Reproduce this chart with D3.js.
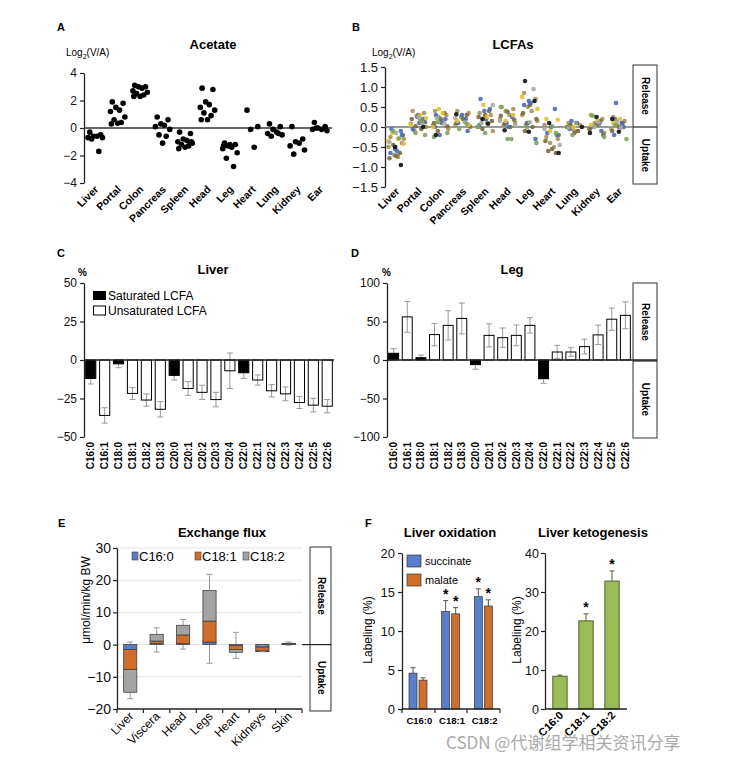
<!DOCTYPE html>
<html><head><meta charset="utf-8">
<script src="https://cdn.jsdelivr.net/npm/d3@7"></script>
<style>
body{margin:0;background:#fff;}
svg{font-family:"Liberation Sans",Arial,sans-serif;}
</style></head><body>
<svg id="fig" width="736" height="758"></svg>
<script>
// ---------------- DATA ----------------
const organsA = ["Liver","Portal","Colon","Pancreas","Spleen","Head","Leg","Heart","Lung","Kidney","Ear"];
const acetateTicks = [-4,-2,0,2,4];
const acetateValues = [
  [-0.3,-0.5,-0.6,-0.6,-0.7,-0.7,-0.8,-1.7],
  [1.9,1.8,1.5,1.3,1.2,0.8,0.6,0.4,0.35,0.3],
  [3.1,3.0,3.0,2.9,2.7,2.6,2.5,2.4,2.3,2.3],
  [0.8,0.6,0.3,0.2,0.1,-0.1,-0.5,-0.6,-1.1],
  [-0.3,-0.4,-0.8,-0.9,-1.0,-1.1,-1.2,-1.3,-1.4,-1.5,-1.0],
  [2.9,2.8,1.9,1.7,1.5,1.3,1.1,0.9,0.6,0.6],
  [-1.1,-1.2,-1.3,-1.4,-1.5,-1.8,-2.2,-2.8,-1.2,-1.3],
  [1.3,0.1,-0.1,-1.4],
  [0.3,0.1,-0.1,-0.3,-0.4,-0.5,-0.6,-0.4],
  [0.1,-0.8,-1.0,-1.1,-1.3,-1.6,-1.9],
  [0.4,0.1,0.0,-0.1,-0.1,-0.2,0.0]
];

const lcfaTicks = [-1.5,-1.0,-0.5,0,0.5,1.0,1.5];
const lcfaColors = ["#4b6cb7","#e3c12c","#a3955a","#7a6a3e","#7fa25f","#a7aaa5","#111111"];
const lcfaBlue = [[-0.05,-0.1,-0.55,-0.6,-0.65,-0.2],[0.2,0.25,0.1,-0.05,0.15],[0.3,0.2,-0.2,0.1,0.0],[0.2,0.1,-0.1,0.3],[0.7,0.45,0.4,0.2,0.05],[0.25,0.1,0.0],[0.65,0.6,0.55,-0.3,0.1],[0.45,-0.15,-0.2,0.0],[0.15,0.1,-0.05],[0.1,0.0,-0.1],[0.6,0.1,-0.2,0.0]];
const lcfaYellow = [[-0.3,-0.35,-0.42,-0.15],[0.3,0.05,0.22],[0.45,0.35,0.0],[0.15,0.05],[0.55,0.25],[0.3,0.15],[0.75,0.45],[0.2,0.18,-0.1],[0.0],[0.15,0.05],[0.2,0.1]];
const lcfaOlive = [[-0.25,-0.4,-0.7,-0.75,-0.5,-0.3],[0.4,0.35,0.28,0.18,0.08,0.0,-0.1],[0.4,0.3,0.25,0.15,0.05,-0.05],[0.4,0.35,0.25,0.15,0.05,0.0],[0.35,0.3,0.2,0.1,0.0,-0.1],[0.5,0.45,0.4,0.3,0.2,0.1,0.05],[0.85,0.7,0.5,0.4,0.3,0.15,0.05],[-0.25,-0.3,-0.4,-0.5,0.05],[0.1,0.05,-0.05,-0.1,0.0],[0.3,0.2,0.1,0.05,-0.05,-0.15],[0.25,0.15,0.05,0.0,-0.05]];
const lcfaBrown = [[-0.65,-0.72,-0.78,-0.2,-0.45],[0.3,0.2,0.12,0.02,-0.05],[0.35,0.2,0.1,0.02,-0.1],[0.3,0.2,0.1,0.02],[0.4,0.3,0.25,0.15,-0.05],[0.38,0.28,0.18,0.08,0.0],[0.55,0.35,0.2,0.1,0.0,-0.1],[-0.6,-0.65,-0.55,-0.35,-0.2],[0.05,-0.1,-0.15,0.0],[0.15,0.05,-0.05,-0.2],[0.2,0.1,0.0,-0.1]];
const lcfaGreen = [[-0.1,-0.28],[-0.2,-0.15,0.15],[-0.25,-0.15,0.12],[-0.05,0.08],[-0.15,0.0],[-0.3,-0.3,0.5],[-0.4,0.0],[-0.15,0.02],[-0.2,0.1],[-0.25,0.28],[-0.3,0.05]];
const lcfaGray = [[-0.15,-0.38],[0.1,0.25],[0.22,0.08],[0.12,0.22],[0.55,0.1],[0.15,0.05],[0.95,0.12],[-0.05,-0.45],[-0.02],[0.0,0.12],[0.15,-0.02]];
const lcfaBlack = [[-0.95,-0.5],[0.0],[-0.2],[0.32],[0.2,0.08],[-0.08],[1.15,0.65,-0.12],[-0.65,0.1],[0.0],[0.25,-0.15],[-0.12,0.2]];

const fattyAcids = ["C16:0","C16:1","C18:0","C18:1","C18:2","C18:3","C20:0","C20:1","C20:2","C20:3","C20:4","C22:0","C22:1","C22:2","C22:3","C22:4","C22:5","C22:6"];
const saturated = [1,0,1,0,0,0,1,0,0,0,0,1,0,0,0,0,0,0];
const liverPct = [-12,-36,-2.5,-21.7,-26,-32,-10,-18.5,-21,-25.7,-7,-8.3,-13,-20,-22,-27.6,-29.3,-30];
const liverErr = [3.6,5,2.5,3.9,4,5,3,4.5,4.6,4.7,11.5,3.7,3.3,4,4.5,3.9,4.4,4.3];
const liverTicks = [-50,-25,0,25,50];
const legPct = [8.7,56,3,33,45,54,-6,32,29,32,45,-24.3,10.4,10.4,17.4,32.6,53,58];
const legErr = [6,20,3.5,14.5,19,20,6,15,12.5,13.5,10,6,8.7,5.6,9.6,12.6,14.4,17.4];
const legTicks = [-100,-50,0,50,100];

const fluxCats = ["Liver","Viscera","Head","Legs","Heart","Kidneys","Skin"];
const fluxSeries = ["C16:0","C18:1","C18:2"];
const fluxC160 = [-1.5,0.3,0.3,0.8,-0.3,-0.8,0.1];
const fluxC181 = [-6.2,0.8,2.7,6.5,-1.2,-1.2,0.1];
const fluxC182 = [-7.1,2.1,3.0,9.5,-0.9,-0.2,0.2];
const fluxErrLo = [-16.8,-2.3,-1.4,-5.8,-4.3,-2.2,-0.2];
const fluxErrHi = [0.8,5.2,7.8,21.8,3.8,-0.3,0.8];
const fluxTicks = [-20,-10,0,10,20,30];

const oxCats = ["C16:0","C18:1","C18:2"];
const succinate = [4.6,12.5,14.4];
const succinateErr = [0.7,1.4,1.0];
const malate = [3.7,12.2,13.2];
const malateErr = [0.3,0.8,0.8];
const oxSig = [0,1,1];
const oxTicks = [0,5,10,15,20];
const ketone = [8.4,22.6,32.8];
const ketoneErr = [0.3,1.8,2.6];
const ketSig = [0,1,1];
const ketTicks = [0,10,20,30,40];

// ---------------- DRAW ----------------
const svg = d3.select("#fig");
const FONT = "Liberation Sans, Arial, sans-serif";

function txt(x,y,s,opt={}){
  const t = svg.append("text").attr("x",x).attr("y",y).text(s)
    .attr("font-size",opt.size||11).attr("font-weight",opt.bold?"bold":"normal")
    .attr("text-anchor",opt.anchor||"start").attr("fill",opt.fill||"#000");
  if(opt.rotate!==undefined) t.attr("transform",`rotate(${opt.rotate},${x},${y})`);
  return t;
}
function logLabel(x,y){
  const t = svg.append("text").attr("x",x).attr("y",y).attr("font-size",10);
  t.append("tspan").text("Log");
  t.append("tspan").text("2").attr("font-size",7).attr("dy",3);
  t.append("tspan").text("(V/A)").attr("dy",-3);
}
function yAxis(scale,x,ticks,fs,fmt,pad){
  const g = svg.append("g").attr("transform",`translate(${x},0)`)
    .call(d3.axisLeft(scale).tickValues(ticks).tickSize(4).tickPadding(pad===undefined?3:pad).tickSizeOuter(0).tickFormat(fmt||d3.format("d")));
  g.select(".domain").attr("stroke","#222").attr("stroke-width",1.3);
  g.selectAll(".tick line").attr("stroke","#222").attr("stroke-width",1.2);
  g.selectAll("text").attr("font-size",fs).attr("font-family",FONT).attr("fill","#111");
  return g;
}
function relBox(x0,x1,y0,ymid,y1,fs){
  svg.append("rect").attr("x",x0).attr("y",y0).attr("width",x1-x0).attr("height",y1-y0)
    .attr("fill","#fff").attr("stroke","#333").attr("stroke-width",1);
  svg.append("line").attr("x1",x0).attr("x2",x1).attr("y1",ymid).attr("y2",ymid).attr("stroke","#222").attr("stroke-width",1.2);
  const cx=(x0+x1)/2;
  txt(cx-3,(y0+ymid)/2,"Release",{size:fs,bold:true,anchor:"middle",rotate:90});
  txt(cx-3,(ymid+y1)/2,"Uptake",{size:fs,bold:true,anchor:"middle",rotate:90});
}
const jit = [-6,6,-2,2,-8,8,-4,4,0,-7,7,-3,3,-5,5,-1,1];

// ---- Panel A ----
txt(57,31,"A",{size:11,bold:true});
txt(213,49,"Acetate",{size:13,bold:true,anchor:"middle"});
logLabel(66,56);
const xA = d3.scalePoint().domain(organsA).range([84,331]).padding(0.5);
const yA = d3.scaleLinear().domain([-4,4]).range([183,73]);
yAxis(yA,84,acetateTicks,12);
svg.append("line").attr("x1",84).attr("x2",332).attr("y1",yA(0)).attr("y2",yA(0)).attr("stroke","#333").attr("stroke-width",1.6);
organsA.forEach((o,i)=>{
  svg.selectAll(null).data(acetateValues[i]).enter().append("circle")
    .attr("cx",(d,j)=>xA(o)+jit[j%jit.length]*0.9).attr("cy",d=>yA(d)).attr("r",2.8).attr("fill","#000");
  txt(xA(o)+4,190,o,{size:10.5,bold:true,anchor:"end",rotate:-45});
});

// ---- Panel B ----
txt(352,31,"B",{size:11,bold:true});
txt(513,49,"LCFAs",{size:13,bold:true,anchor:"middle"});
logLabel(372,56);
const xB = d3.scalePoint().domain(organsA).range([385,630]).padding(0.5);
const yB = d3.scaleLinear().domain([-1.5,1.5]).range([187,67]);
yAxis(yB,385,lcfaTicks,13,d3.format(".1f"));
relBox(633,657,65,yB(0),184,10);
svg.append("line").attr("x1",385).attr("x2",633).attr("y1",yB(0)).attr("y2",yB(0)).attr("stroke","#777").attr("stroke-width",1.6);
const lcfaSets = [lcfaOlive,lcfaBrown,lcfaBlue,lcfaYellow,lcfaGray,lcfaGreen,lcfaBlack];
const lcfaSetColors = [lcfaColors[2],lcfaColors[3],lcfaColors[0],lcfaColors[1],lcfaColors[5],lcfaColors[4],lcfaColors[6]];
organsA.forEach((o,i)=>{
  let k=0;
  lcfaSets.forEach((set,si)=>{
    svg.selectAll(null).data(set[i]).enter().append("circle")
      .attr("cx",()=>xB(o)+jit[(k++ + si)%jit.length]*0.95).attr("cy",d=>yB(d)).attr("r",2.3)
      .attr("fill",lcfaSetColors[si]).attr("opacity",0.9);
  });
  txt(xB(o)+4,192,o,{size:10.5,bold:true,anchor:"end",rotate:-45});
});

// ---- bar panels C, D ----
function barPanel(opts){
  const x = d3.scaleBand().domain(fattyAcids).range(opts.xr).paddingInner(0.27).paddingOuter(0.12);
  const y = d3.scaleLinear().domain(opts.dom).range([437,283]);
  yAxis(y,opts.xr[0],opts.ticks,12);
  fattyAcids.forEach((f,i)=>{
    const v=opts.vals[i], e=opts.err[i];
    const xc=x(f)+x.bandwidth()/2;
    svg.append("line").attr("x1",xc).attr("x2",xc).attr("y1",y(v-e)).attr("y2",y(v+e)).attr("stroke","#999").attr("stroke-width",1);
    const capv = v>=0? v+e : v-e;
    svg.append("line").attr("x1",xc-3).attr("x2",xc+3).attr("y1",y(capv)).attr("y2",y(capv)).attr("stroke","#999").attr("stroke-width",1);
    const capw = v>=0? v-e : v+e;
    svg.append("line").attr("x1",xc-3).attr("x2",xc+3).attr("y1",y(capw)).attr("y2",y(capw)).attr("stroke","#999").attr("stroke-width",1);
    svg.append("rect").attr("x",x(f)).attr("width",x.bandwidth())
      .attr("y",y(Math.max(0,v))).attr("height",Math.abs(y(v)-y(0)))
      .attr("fill",saturated[i]?"#000":"#fff").attr("fill-opacity",saturated[i]?1:0).attr("stroke","#000").attr("stroke-width",1);
    txt(xc+3.5,442,f,{size:10,bold:true,anchor:"end",rotate:-90});
  });
  svg.append("line").attr("x1",opts.xr[0]).attr("x2",opts.zeroEnd).attr("y1",y(0)).attr("y2",y(0)).attr("stroke","#222").attr("stroke-width",1.3);
  return {x,y};
}
txt(57,257,"C",{size:11,bold:true});
txt(213,274,"Liver",{size:13,bold:true,anchor:"middle"});
txt(78,276,"%",{size:10,bold:true});
barPanel({xr:[84,334],dom:[-50,50],ticks:liverTicks,vals:liverPct,err:liverErr,zeroEnd:334});
svg.append("rect").attr("x",93).attr("y",291).attr("width",13).attr("height",9).attr("fill","#000");
txt(108,300,"Saturated LCFA",{size:12});
svg.append("rect").attr("x",93.5).attr("y",306).attr("width",12).attr("height",9).attr("fill","#fff").attr("stroke","#000");
txt(108,315,"Unsaturated LCFA",{size:12});

txt(351,257,"D",{size:11,bold:true});
txt(512,274,"Leg",{size:13,bold:true,anchor:"middle"});
txt(382,276,"%",{size:10,bold:true});
relBox(633,657,283,361,438,10);
barPanel({xr:[387,632],dom:[-100,100],ticks:legTicks,vals:legPct,err:legErr,zeroEnd:657});

// ---- Panel E ----
txt(58,527,"E",{size:11,bold:true});
txt(222,537,"Exchange flux",{size:13,bold:true,anchor:"middle"});
const xE = d3.scaleBand().domain(fluxCats).range([117,302]).paddingInner(0.5).paddingOuter(0.25);
const yE = d3.scaleLinear().domain([-20,30]).range([709,548]);
fluxTicks.filter(t=>t>-20).forEach(t=>{
  svg.append("line").attr("x1",117).attr("x2",302).attr("y1",yE(t)).attr("y2",yE(t)).attr("stroke","#e3e3e3").attr("stroke-width",1);
});
relBox(310,331,547,yE(0),711,10);
svg.append("line").attr("x1",302).attr("x2",310).attr("y1",yE(0)).attr("y2",yE(0)).attr("stroke","#222").attr("stroke-width",1.2);
const fluxColors = ["#5b7bc4","#cf6e2a","#a3a3a3"];
const fluxData = [fluxC160,fluxC181,fluxC182];
fluxCats.forEach((c,i)=>{
  const xc = xE(c)+xE.bandwidth()/2;
  svg.append("line").attr("x1",xc).attr("x2",xc).attr("y1",yE(fluxErrLo[i])).attr("y2",yE(fluxErrHi[i])).attr("stroke","#999");
  let acc=0;
  fluxData.forEach((s,si)=>{
    const a=acc, b=acc+s[i]; acc=b;
    svg.append("rect").attr("x",xE(c)).attr("width",xE.bandwidth())
      .attr("y",yE(Math.max(a,b))).attr("height",Math.abs(yE(a)-yE(b)))
      .attr("fill",fluxColors[si]).attr("stroke","#444").attr("stroke-width",0.8);
  });
  [fluxErrLo[i],fluxErrHi[i]].forEach(v=>svg.append("line").attr("x1",xc-3).attr("x2",xc+3).attr("y1",yE(v)).attr("y2",yE(v)).attr("stroke","#999"));
  txt(xc+4,717,c,{size:12,anchor:"end",rotate:-45});
});
yAxis(yE,117,fluxTicks,14,null,2);
svg.append("line").attr("x1",117).attr("x2",302).attr("y1",yE(-20)).attr("y2",yE(-20)).attr("stroke","#222").attr("stroke-width",1.3);
d3.range(fluxCats.length+1).forEach(k=>{
  const xx = 117 + k*xE.step();
  svg.append("line").attr("x1",xx).attr("x2",xx).attr("y1",709).attr("y2",713).attr("stroke","#222").attr("stroke-width",1.2);
});
[[132,"C16:0"],[195,"C18:1"],[243,"C18:2"]].forEach((p,k)=>{
  svg.append("rect").attr("x",p[0]).attr("y",552).attr("width",6).attr("height",8).attr("fill",fluxColors[k]).attr("stroke","#444").attr("stroke-width",0.6);
  txt(p[0]+7,561,fluxSeries[k],{size:13});
});
txt(90,600,"μmol/min/kg BW",{size:12,anchor:"middle",rotate:-90});

// ---- Panel F ----
txt(365,527,"F",{size:11,bold:true});
txt(450,537,"Liver oxidation",{size:13,bold:true,anchor:"middle"});
txt(593,537,"Liver ketogenesis",{size:13,bold:true,anchor:"middle"});
const xF = d3.scaleBand().domain(oxCats).range([402,500]);
const yF = d3.scaleLinear().domain([0,20]).range([709,553]);
const oxColors = ["#5a7fca","#d06f2b"];
function errBar(x,y,v,e,col){
  svg.append("line").attr("x1",x).attr("x2",x).attr("y1",y(v)).attr("y2",y(v+e)).attr("stroke",col||"#555");
  svg.append("line").attr("x1",x-2.5).attr("x2",x+2.5).attr("y1",y(v+e)).attr("y2",y(v+e)).attr("stroke",col||"#555");
}
oxCats.forEach((c,i)=>{
  const x0 = xF(c)+7;
  [[succinate,succinateErr],[malate,malateErr]].forEach((s,si)=>{
    const bx = x0 + si*10;
    errBar(bx+4,yF,s[0][i],s[1][i]);
    svg.append("rect").attr("x",bx).attr("width",8).attr("y",yF(s[0][i])).attr("height",yF(0)-yF(s[0][i]))
      .attr("fill",oxColors[si]).attr("stroke","#333").attr("stroke-width",0.7);
    if(oxSig[i]) txt(bx+4,yF(s[0][i]+s[1][i])-2,"*",{size:14,bold:true,anchor:"middle"});
  });
  txt(xF(c)+xF.bandwidth()/2+1,724,c,{size:9.5,bold:true,anchor:"middle"});
});
yAxis(yF,402,oxTicks,13);
svg.append("line").attr("x1",402).attr("x2",500).attr("y1",709).attr("y2",709).attr("stroke","#222").attr("stroke-width",1.3);
[402,435,467,500].forEach(xx=>svg.append("line").attr("x1",xx).attr("x2",xx).attr("y1",709).attr("y2",713).attr("stroke","#222").attr("stroke-width",1.2));
svg.append("rect").attr("x",407).attr("y",555).attr("width",14).attr("height",12).attr("fill",oxColors[0]).attr("stroke","#333").attr("stroke-width",0.7);
txt(425,565,"succinate",{size:11});
svg.append("rect").attr("x",407).attr("y",574).attr("width",14).attr("height",12).attr("fill",oxColors[1]).attr("stroke","#333").attr("stroke-width",0.7);
txt(425,584,"malate",{size:11});
txt(372,630,"Labeling (%)",{size:12,anchor:"middle",rotate:-90});

const xK = d3.scaleBand().domain(oxCats).range([545,627]).paddingInner(0.45).paddingOuter(0.3);
const yK = d3.scaleLinear().domain([0,40]).range([709,553]);
oxCats.forEach((c,i)=>{
  const xc = xK(c)+xK.bandwidth()/2;
  errBar(xc,yK,ketone[i],ketoneErr[i],"#4f6228");
  svg.append("rect").attr("x",xK(c)).attr("width",xK.bandwidth()).attr("y",yK(ketone[i])).attr("height",yK(0)-yK(ketone[i]))
    .attr("fill","#9bbb59").attr("stroke","#4f6228").attr("stroke-width",1);
  if(ketSig[i]) txt(xc,yK(ketone[i]+ketoneErr[i])-2,"*",{size:14,bold:true,anchor:"middle"});
  txt(xc+4,716,c,{size:11,bold:true,anchor:"end",rotate:-45});
});
yAxis(yK,545,ketTicks,12.5,null,2);
svg.append("line").attr("x1",545).attr("x2",627).attr("y1",709).attr("y2",709).attr("stroke","#222").attr("stroke-width",1.3);
txt(521,630,"Labeling (%)",{size:12,anchor:"middle",rotate:-90});

// watermark
svg.append("text").attr("x",446).attr("y",749).text("CSDN @代谢组学相关资讯分享")
  .attr("font-family","Noto Sans CJK SC, sans-serif").attr("font-size",17).attr("fill","#a9a9a9");
</script>
</body></html>
